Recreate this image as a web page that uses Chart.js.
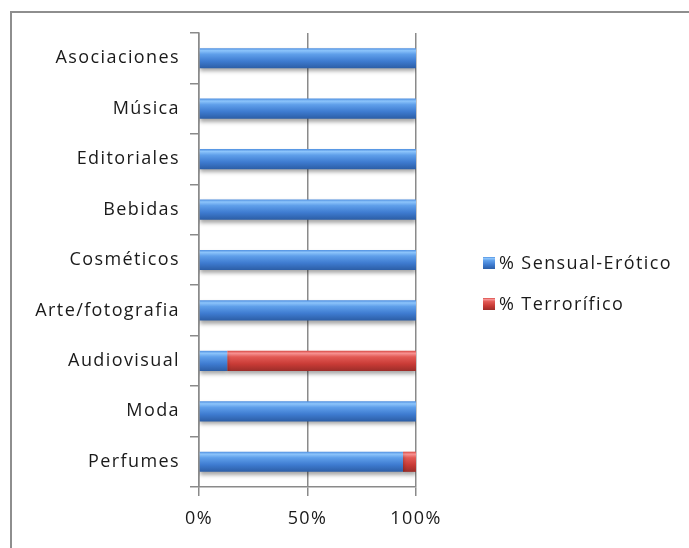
<!DOCTYPE html>
<html>
<head>
<meta charset="utf-8">
<script src="https://cdn.jsdelivr.net/npm/chart.js@4/dist/chart.umd.min.js"></script>
<style>
html,body{margin:0;padding:0;background:#fff;overflow:hidden;}
#wrap{position:relative;width:689px;height:548px;overflow:hidden;}
#frame{position:absolute;left:10px;top:11px;width:700px;height:560px;border:2px solid #8e8e8e;box-sizing:border-box;}
canvas{position:absolute;left:0;top:0;}
#legend{position:absolute;left:483px;top:250px;font-family:"Open Sans",sans-serif;font-size:18px;letter-spacing:1.4px;color:#1a1a1a;}
.li{position:relative;height:41px;line-height:24px;white-space:nowrap;}
.sw{display:inline-block;width:12px;height:12px;margin-right:4px;vertical-align:0px;}
</style>
</head>
<body>
<div id="wrap">
<div id="frame"></div>
<canvas id="c" width="689" height="548"></canvas>
<div id="legend"></div>
</div>
<script>
const categories = ["Asociaciones","Música","Editoriales","Bebidas","Cosméticos","Arte/fotografia","Audiovisual","Moda","Perfumes"];
const sensualErotico = [100,100,100,100,100,100,13,100,94];
const terrorifico = [0,0,0,0,0,0,87,0,6];
const seriesNames = ["% Sensual-Erótico","% Terrorífico"];
const xTickLabels = ["0%","50%","100%"];

const palettes = {
  blue: [[0,"#4f8fe0"],[0.12,"#8cc4fb"],[0.3,"#5f9fea"],[0.65,"#3e7bd0"],[1,"#2c5ea6"]],
  red:  [[0,"#d84a44"],[0.12,"#f79292"],[0.3,"#e25a55"],[0.65,"#c93b36"],[1,"#9c2d29"]]
};
function grad(ctx, pal, solid){
  const chart = ctx.chart;
  const ys = chart.scales && chart.scales.y;
  if(!chart.chartArea || !ys || ctx.dataIndex === undefined) return solid;
  const yc = ys.getPixelForValue(ctx.dataIndex);
  const h = 10;
  const g = chart.ctx.createLinearGradient(0, yc-h, 0, yc+h);
  pal.forEach(s=>g.addColorStop(s[0], s[1]));
  return g;
}

const shadowPlugin = {
  id:'shadow',
  beforeDatasetsDraw(chart){ const c=chart.ctx; c.save(); c.shadowColor='rgba(0,0,0,0.35)'; c.shadowBlur=4; c.shadowOffsetY=3; },
  afterDatasetsDraw(chart){ chart.ctx.restore(); }
};
const spacingPlugin = {
  id:'spacing',
  beforeDraw(chart){ chart.ctx.letterSpacing = '1.4px'; },
  afterDraw(chart){ chart.ctx.letterSpacing = '0px'; }
};

const FONT = {family:"'Open Sans', sans-serif", size:18};
const chart = new Chart(document.getElementById('c'), {
  type:'bar',
  data:{
    labels: categories,
    datasets:[
      {label:seriesNames[0], data:sensualErotico, backgroundColor:(c)=>grad(c,palettes.blue,"#4a86d6"), borderWidth:0, barPercentage:0.4, categoryPercentage:1},
      {label:seriesNames[1], data:terrorifico, backgroundColor:(c)=>grad(c,palettes.red,"#d0403c"), borderWidth:0, barPercentage:0.4, categoryPercentage:1}
    ]
  },
  options:{
    indexAxis:'y',
    responsive:false,
    animation:false,
    layout:{padding:{top:33,right:273,bottom:0,left:0}},
    plugins:{legend:{display:false}, tooltip:{enabled:false}},
    scales:{
      x:{
        stacked:true, min:0, max:100,
        afterBuildTicks(s){ s.ticks = [0,50,100].map(v=>({value:v})); },
        ticks:{callback:(v)=>xTickLabels[[0,50,100].indexOf(v)], color:'#1a1a1a', font:FONT, padding:12, maxRotation:0},
        grid:{color:'#8a8a8a', lineWidth:1.5, tickLength:9, drawOnChartArea:true},
        border:{color:'#8a8a8a', width:1.5},
        afterFit(s){ s.height = 61; }
      },
      y:{
        stacked:true,
        ticks:{color:'#1a1a1a', font:FONT, padding:10},
        grid:{color:'#8a8a8a', lineWidth:1.5, tickLength:9, drawOnChartArea:false, offset:true},
        border:{color:'#8a8a8a', width:1.5},
        afterFit(s){ s.width = 199; }
      }
    }
  },
  plugins:[shadowPlugin, spacingPlugin]
});

const lg = document.getElementById('legend');
[["blue",seriesNames[0]],["red",seriesNames[1]]].forEach(([k,name])=>{
  const d=document.createElement('div'); d.className='li';
  const sw=document.createElement('span'); sw.className='sw';
  sw.style.background='linear-gradient(to bottom,'+palettes[k].map(s=>s[1]+' '+(s[0]*100)+'%').join(',')+')';
  d.appendChild(sw); d.appendChild(document.createTextNode(name)); lg.appendChild(d);
});
</script>
</body>
</html>
